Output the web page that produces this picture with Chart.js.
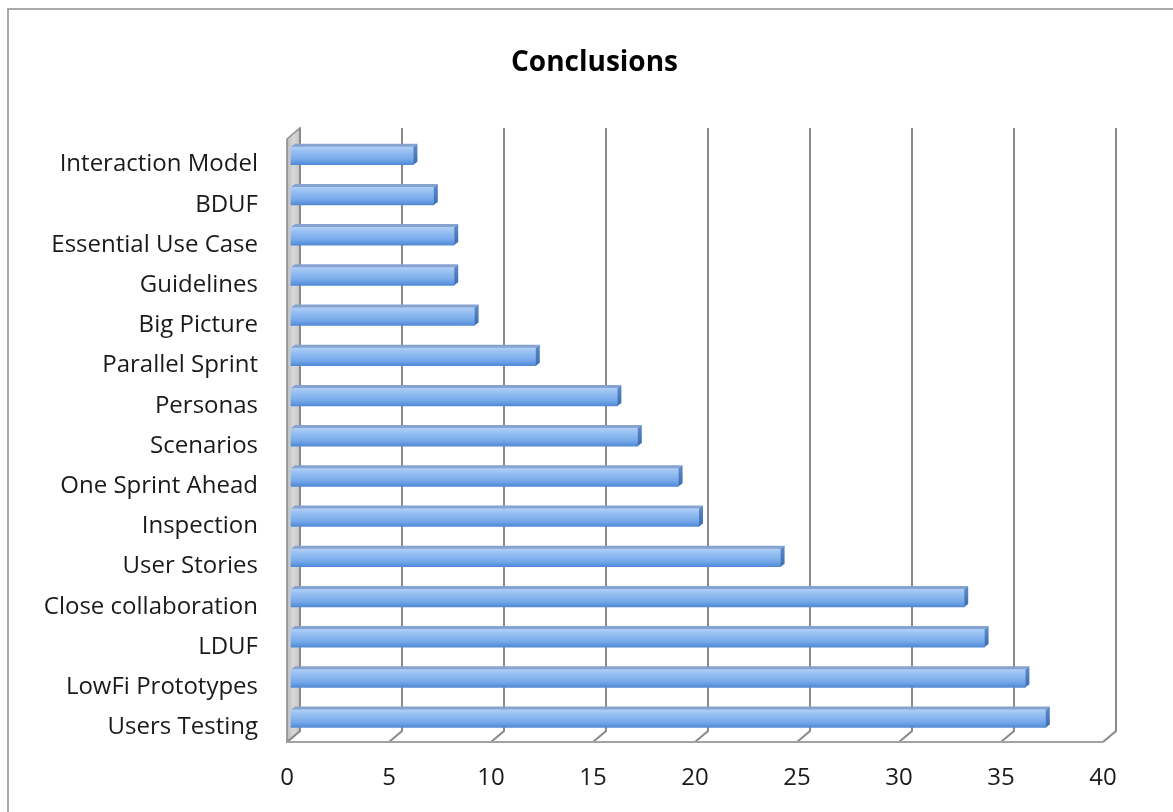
<!DOCTYPE html>
<html>
<head>
<meta charset="utf-8">
<script src="https://cdn.jsdelivr.net/npm/chart.js@4.4.1/dist/chart.umd.min.js"></script>
<style>
  html, body { margin: 0; padding: 0; background: #ffffff; }
  #wrap { width: 1173px; height: 812px; position: relative; }
</style>
</head>
<body>
<div id="wrap"><canvas id="chart" width="1173" height="812"></canvas></div>
<script>
// Survey tallies per practice, listed top to bottom
const categories = [
  'Interaction Model', 'BDUF', 'Essential Use Case', 'Guidelines', 'Big Picture',
  'Parallel Sprint', 'Personas', 'Scenarios', 'One Sprint Ahead', 'Inspection',
  'User Stories', 'Close collaboration', 'LDUF', 'LowFi Prototypes', 'Users Testing'
];
const values = [6, 7, 8, 8, 9, 12, 16, 17, 19, 20, 24, 33, 34, 36, 37];
const xTicks = [0, 5, 10, 15, 20, 25, 30, 35, 40];

// Depth of the pseudo-3D box and of the bars inside it
const DEPTH_X = 13, DEPTH_Y = -11;
const BAR_OFF_X = 4, BAR_OFF_Y = -3.4;
const BAR_DX = 4, BAR_DY = -3;

const FONT = '"Open Sans", Lato, sans-serif';

const boxPlugin = {
  id: 'box3d',
  beforeDraw(chart) {
    const { ctx, chartArea: a, scales } = chart;
    const xs = scales.x;
    ctx.save();
    // outer frame
    ctx.strokeStyle = '#a9a9a9';
    ctx.lineWidth = 2;
    ctx.beginPath();
    ctx.moveTo(8, 830);
    ctx.lineTo(8, 9);
    ctx.lineTo(1190, 9);
    ctx.stroke();

    const top = a.top, bot = a.bottom;
    const x0 = xs.getPixelForValue(0);
    // left wall
    const g = ctx.createLinearGradient(x0, 0, x0 + DEPTH_X, 0);
    g.addColorStop(0, '#bdbdbd');
    g.addColorStop(0.5, '#d8d8d8');
    g.addColorStop(1, '#c4c4c4');
    ctx.fillStyle = g;
    ctx.beginPath();
    ctx.moveTo(x0, top);
    ctx.lineTo(x0 + DEPTH_X, top + DEPTH_Y);
    ctx.lineTo(x0 + DEPTH_X, bot + DEPTH_Y);
    ctx.lineTo(x0, bot);
    ctx.closePath();
    ctx.fill();
    ctx.strokeStyle = '#8e8e8e';
    ctx.lineWidth = 1.6;
    ctx.stroke();

    // back-wall gridlines with floor ticks
    ctx.strokeStyle = '#8a8a8a';
    ctx.lineWidth = 2;
    xTicks.forEach(v => {
      const xf = xs.getPixelForValue(v);
      ctx.beginPath();
      ctx.moveTo(xf + DEPTH_X, top + DEPTH_Y);
      ctx.lineTo(xf + DEPTH_X, bot + DEPTH_Y);
      ctx.lineTo(xf, bot);
      ctx.stroke();
    });
    // front floor edge
    ctx.strokeStyle = '#a2a2a2';
    ctx.beginPath();
    ctx.moveTo(x0, bot);
    ctx.lineTo(xs.getPixelForValue(40), bot);
    ctx.stroke();
    ctx.restore();
  },
  beforeDatasetsDraw(chart) {
    const { ctx } = chart;
    // shaded front face for each bar, following the bar's own position
    chart.getDatasetMeta(0).data.forEach(bar => {
      const { y, height } = bar.getProps(['y', 'height'], true);
      if (!isFinite(y) || !isFinite(height)) return;
      const gr = ctx.createLinearGradient(0, y - height / 2, 0, y + height / 2);
      gr.addColorStop(0, '#b0cff7');
      gr.addColorStop(0.25, '#98c0f2');
      gr.addColorStop(0.7, '#76a9ea');
      gr.addColorStop(1, '#5089d6');
      bar.options = Object.assign({}, bar.options, { backgroundColor: gr });
    });
    ctx.save();
    ctx.translate(BAR_OFF_X, BAR_OFF_Y);
  },
  afterDatasetsDraw(chart) {
    const { ctx } = chart;
    const meta = chart.getDatasetMeta(0);
    meta.data.forEach(bar => {
      const { x, y, base, height } = bar.getProps(['x', 'y', 'base', 'height'], true);
      const t = y - height / 2, b = y + height / 2;
      // top face
      ctx.fillStyle = '#86a3cf';
      ctx.beginPath();
      ctx.moveTo(base, t);
      ctx.lineTo(x, t);
      ctx.lineTo(x + BAR_DX, t + BAR_DY);
      ctx.lineTo(base + BAR_DX, t + BAR_DY);
      ctx.closePath();
      ctx.fill();
      // end face
      const sg = ctx.createLinearGradient(0, t, 0, b);
      sg.addColorStop(0, '#5a88c8');
      sg.addColorStop(1, '#3b6cb0');
      ctx.fillStyle = sg;
      ctx.beginPath();
      ctx.moveTo(x, t);
      ctx.lineTo(x + BAR_DX, t + BAR_DY);
      ctx.lineTo(x + BAR_DX, b + BAR_DY);
      ctx.lineTo(x, b);
      ctx.closePath();
      ctx.fill();
    });
    ctx.restore();
  }
};

new Chart(document.getElementById('chart'), {
  type: 'bar',
  data: {
    labels: categories,
    datasets: [{
      data: values,
      barThickness: 18,
      borderWidth: 0,
      clip: false,
      backgroundColor: '#7eaeea'
    }]
  },
  options: {
    indexAxis: 'y',
    responsive: false,
    animation: false,
    devicePixelRatio: 1,
    layout: { padding: { left: 16, right: 0, top: 20, bottom: 0 } },
    plugins: {
      legend: { display: false },
      tooltip: { enabled: false },
      title: {
        display: true,
        text: 'Conclusions',
        color: '#000000',
        font: { family: FONT, size: 28, weight: 'bold' },
        padding: { top: 26.2, bottom: 59.2 }
      }
    },
    scales: {
      x: {
        min: 0, max: 40,
        afterBuildTicks(s) { s.ticks = xTicks.map(v => ({ value: v })); },
        afterFit(s) { s.height = 70; },
        grid: { display: false, drawTicks: false },
        border: { display: false },
        ticks: { color: '#1a1a1a', font: { family: FONT, size: 24 }, padding: 22, maxRotation: 0 }
      },
      y: {
        afterFit(s) { s.width = 271; },
        grid: { display: false, drawTicks: false },
        border: { display: false },
        ticks: { color: '#1a1a1a', font: { family: FONT, size: 24 }, padding: 29, labelOffset: 5.5, autoSkip: false }
      },
      // empty right-hand margin of the plot frame
      yRight: {
        type: 'category',
        position: 'right',
        afterFit(s) { s.width = 70; },
        grid: { display: false, drawTicks: false },
        border: { display: false },
        ticks: { display: false }
      }
    }
  },
  plugins: [boxPlugin]
});
</script>
</body>
</html>
